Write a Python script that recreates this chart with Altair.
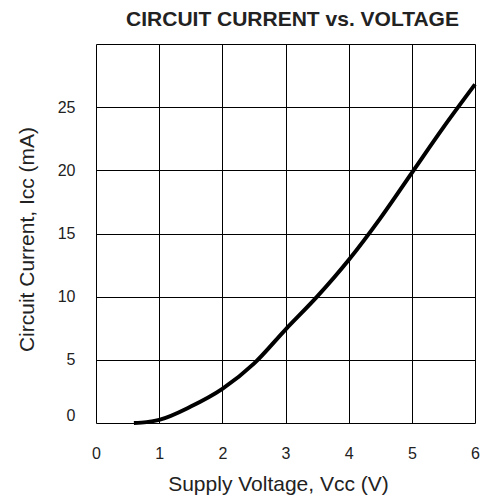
import altair as alt
import pandas as pd

# Values
voltage = [0.6, 0.8, 1.0, 1.5, 2.0, 2.5, 3.0, 3.5, 4.0, 4.5, 5.0, 5.5, 6.0]
current = [0.0, 0.07, 0.25, 1.3, 2.7, 4.7, 7.4, 10.0, 12.9, 16.2, 19.8, 23.4, 26.8]
x_ticks = [0, 1, 2, 3, 4, 5, 6]
y_ticks = [0, 5, 10, 15, 20, 25, 30]

df = pd.DataFrame({"v": voltage, "i": current})

FONT = "Liberation Sans"

chart = (
    alt.Chart(df)
    .mark_line(color="black", strokeWidth=4, interpolate="monotone")
    .encode(
        x=alt.X(
            "v:Q",
            scale=alt.Scale(domain=[0, 6], nice=False, zero=False),
            axis=alt.Axis(
                values=x_ticks,
                title="Supply Voltage, Vcc (V)",
                grid=True,
                ticks=False,
                tickSize=0,
                domain=False,
                labelPadding=22,
                labelFlush=False,
                titleX=182,
                titleY=67,
                titleBaseline="alphabetic",
            ),
        ),
        y=alt.Y(
            "i:Q",
            scale=alt.Scale(domain=[0, 30], nice=False),
            axis=alt.Axis(
                values=y_ticks,
                labelExpr="datum.value == 30 ? '' : datum.label",
                title="Circuit Current, Icc (mA)",
                grid=True,
                ticks=False,
                tickSize=0,
                domain=False,
                labelPadding=21,
                labelFlush=True,
                titleX=-63,
                titleY=195,
                titleBaseline="alphabetic",
            ),
        ),
    )
    .properties(
        width=379,
        height=379,
        title=alt.TitleParams(
            "CIRCUIT CURRENT vs. VOLTAGE",
            font=FONT,
            fontSize=21,
            fontWeight="bold",
            anchor="middle",
            offset=17,
            dy=20,
            baseline="alphabetic",
            dx=7,
            color="#222222",
        ),
        autosize=alt.AutoSizeParams(type="none"),
        padding={"left": 88, "top": 36, "right": 5, "bottom": 72},
    )
    .configure_view(stroke=None)
    .configure_axis(
        gridColor="black",
        gridOpacity=1,
        gridWidth=1,
        labelFont=FONT,
        labelFontSize=16,
        labelColor="#222222",
        titleFont=FONT,
        titleFontSize=21,
        titleFontWeight="normal",
        titleColor="#222222",
    )
)

chart.save("out.html", embed_options={"renderer": "svg", "actions": False})
